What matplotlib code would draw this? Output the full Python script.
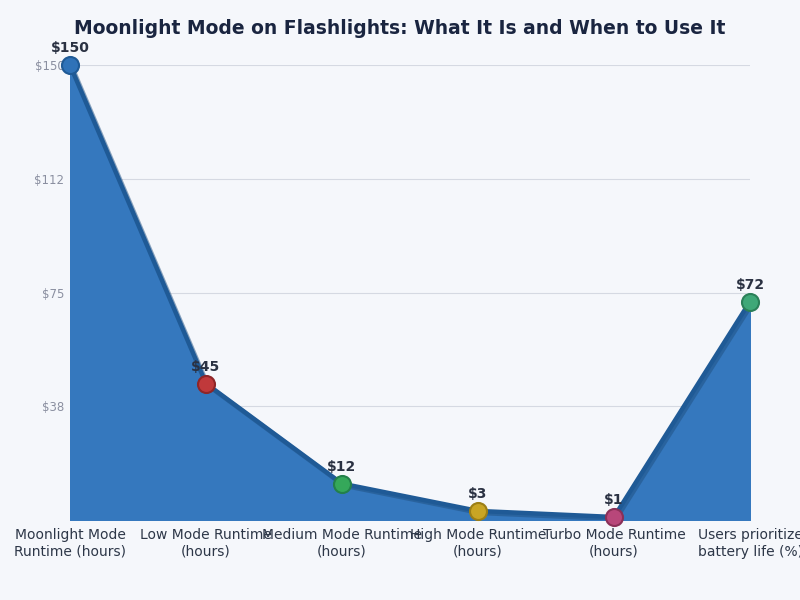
import matplotlib
matplotlib.use("Agg")
import matplotlib.pyplot as plt
import matplotlib.patheffects as pe
import numpy as np

categories = ["Moonlight Mode\nRuntime (hours)", "Low Mode Runtime\n(hours)",
              "Medium Mode Runtime\n(hours)", "High Mode Runtime\n(hours)",
              "Turbo Mode Runtime\n(hours)", "Users prioritize\nbattery life (%)"]
values = [150, 45, 12, 3, 1, 72]
marker_colors = ["#2f72b8", "#c0393b", "#35a85a", "#c9a524", "#b8477a", "#3fa878"]
marker_edges = ["#1f5a96", "#8e2628", "#23804a", "#9c7f16", "#8a3058", "#2b8059"]
yticks = [37.5, 75, 112.5, 150]

bg = "#f5f7fb"
fig = plt.figure(figsize=(8, 6), dpi=100, facecolor=bg)
ax = fig.add_axes([0.0875, 0.1333, 0.85, 0.7584])
ax.set_facecolor(bg)

x = np.arange(len(values))
ax.fill_between(x, values, 0, color="#3578be", zorder=2)
ax.plot(x, values, color="#1f5a96", lw=3.2, zorder=3, solid_capstyle="round",
        path_effects=[pe.SimpleLineShadow(offset=(1.5, -1.5), shadow_color="#1f4f80", alpha=0.5), pe.Normal()])
for xi, v, c, ec in zip(x, values, marker_colors, marker_edges):
    ax.scatter([xi], [v], s=150, color=c, edgecolor=ec, linewidth=1.5, zorder=5, clip_on=False)
    ax.annotate(f"${v}", (xi, v), xytext=(0, 7), textcoords="offset points",
                ha="center", va="bottom", fontsize=10, fontweight="bold", color="#2a3142", zorder=6)

ax.set_xlim(0, len(values) - 1)
ax.set_ylim(0, 150)
ax.set_yticks(yticks)
ax.set_yticklabels([f"${t:.0f}" for t in yticks], fontsize=8.5, color="#8a8fa0")
ax.set_xticks(x)
ax.set_xticklabels(categories, fontsize=10, color="#2d3748")
ax.tick_params(axis="both", length=0)
ax.tick_params(axis="x", pad=6)
ax.tick_params(axis="y", pad=4)
ax.grid(axis="y", color="#d5d9e2", lw=0.8, zorder=0)
ax.set_axisbelow(True)
for s in ax.spines.values():
    s.set_visible(False)

fig.text(0.5, 0.953, "Moonlight Mode on Flashlights: What It Is and When to Use It",
         ha="center", va="center", fontsize=13.5, fontweight="bold", color="#1a2540")

fig.savefig("out.png", dpi=100, facecolor=bg)
